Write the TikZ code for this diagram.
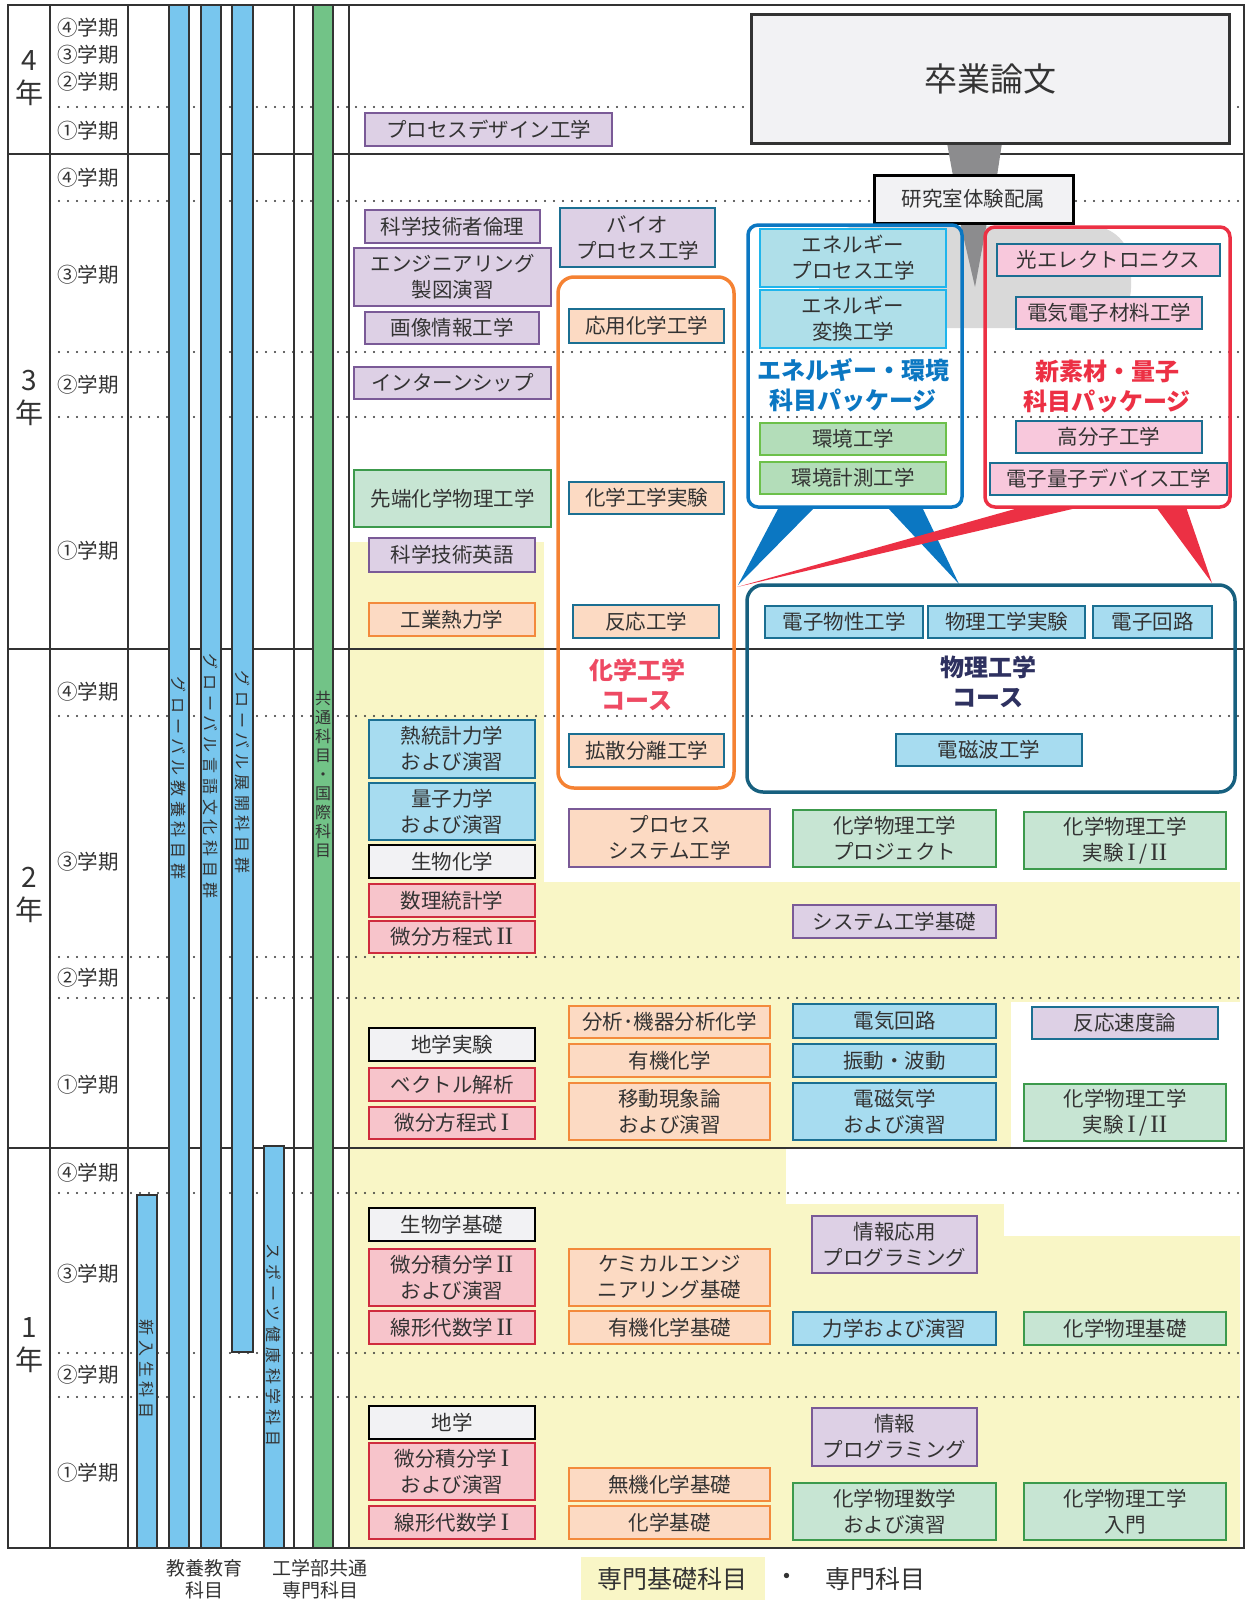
\documentclass[tikz,border=0pt]{standalone}
\usepackage{fontspec}
\usepackage{xcolor}
\setmainfont{Noto Sans CJK JP}
\newfontfamily\barfont[LetterSpace=30]{Noto Sans CJK JP}
\newfontfamily\romnum{Liberation Serif}
\newcommand{\rI}{\,{\romnum\fontsize{25}{26}\selectfont I}}
\newcommand{\rII}{\,{\romnum\fontsize{25}{26}\selectfont II}}

\definecolor{txtgray}{HTML}{333333}
\definecolor{gridgray}{HTML}{333333}
\definecolor{ybg}{HTML}{F9F6C6}
\definecolor{barblue}{HTML}{78C6EE}
\definecolor{bargreen}{HTML}{72C387}
\definecolor{purpfill}{HTML}{DDD0E5}
\definecolor{purpline}{HTML}{7A5A97}
\definecolor{peachfill}{HTML}{FCDAC3}
\definecolor{orangeline}{HTML}{F38A3C}
\definecolor{bluefill}{HTML}{A7DCF0}
\definecolor{tealline}{HTML}{1B6F92}
\definecolor{greenfill}{HTML}{C7E5D3}
\definecolor{greenline}{HTML}{3C9A4C}
\definecolor{pinkfill}{HTML}{F7C4CB}
\definecolor{pinkline}{HTML}{CF2B3E}
\definecolor{grayfill}{HTML}{F2F2F4}
\definecolor{enfill}{HTML}{AFDFE9}
\definecolor{enline}{HTML}{1FB5EC}
\definecolor{envfill}{HTML}{B3DDB9}
\definecolor{envline}{HTML}{6CC04A}
\definecolor{qfill}{HTML}{F8C8DC}
\definecolor{pkgblue}{HTML}{0B77C2}
\definecolor{pkgred}{HTML}{EC3044}
\definecolor{chemframe}{HTML}{F58233}
\definecolor{chemtitle}{HTML}{EE4A63}
\definecolor{physframe}{HTML}{17607F}
\definecolor{phystitle}{HTML}{2E3160}
\definecolor{funnelgray}{HTML}{8C8C8E}

\begin{document}
\begin{tikzpicture}[
        x=1pt, y=-1pt,
        wh/.style 2 args={minimum width=#1pt, minimum height=#2pt},
        subj/.style={draw, line width=1.6pt, inner sep=0pt, align=center, text=txtgray,
            font=\fontsize{20.5}{26}\selectfont},
        purp/.style={subj, fill=purpfill, draw=purpline},
        purpT/.style={subj, fill=purpfill, draw=tealline},
        peach/.style={subj, fill=peachfill, draw=orangeline},
        peachT/.style={subj, fill=peachfill, draw=tealline},
        peachP/.style={subj, fill=peachfill, draw=purpline},
        bluebox/.style={subj, fill=bluefill, draw=tealline},
        greenbox/.style={subj, fill=greenfill, draw=greenline},
        pinkbox/.style={subj, fill=pinkfill, draw=pinkline},
        graybox/.style={subj, fill=grayfill, draw=black},
        enbox/.style={subj, fill=enfill, draw=enline},
        envbox/.style={subj, fill=envfill, draw=envline},
        qbox/.style={subj, fill=qfill, draw=tealline},
        term/.style={text=txtgray, font=\fontsize{20.5}{24}\selectfont},
        yearlbl/.style={text=txtgray, align=center, font=\fontsize{28}{33}\selectfont},
        bartext/.style={text=txtgray, font=\barfont\fontsize{16}{18}\selectfont},
        pkgtitle/.style={align=center, font=\bfseries\fontsize{24}{30}\selectfont},
        gridline/.style={draw=gridgray, line width=1.8pt},
        dotline/.style={draw=gridgray, line width=2.2pt, line cap=round, dash pattern=on 0pt off 9pt},
        bar/.style={draw=gridgray, line width=1.5pt},
        frame/.style={line width=3.5pt, rounded corners=10pt}
    ]
    \useasboundingbox (0,0) rectangle (1247,1601);

    % yellow background
    \fill[ybg] (350,542) rectangle (544,882);
    \fill[ybg] (350,882) rectangle (1240,1002);
    \fill[ybg] (350,1002) rectangle (1011,1148);
    \fill[ybg] (350,1148) rectangle (786,1204);
    \fill[ybg] (350,1204) rectangle (1004,1236);
    \fill[ybg] (350,1236) rectangle (1240,1548);

    \foreach \yy in {107,201,352,417,716,957,998,1193,1353,1397}
        \draw[dotline] (50,\yy) -- (1244,\yy);

    \draw[gridline] (8,5) rectangle (1244,1548);
    \foreach \yy in {154,649,1148}
        \draw[gridline] (8,\yy) -- (1244,\yy);
    \foreach \xx in {50,128,294,349}
        \draw[gridline] (\xx,5) -- (\xx,1548);

    % years and terms
    \node[yearlbl] (y4) at (29,78) {4\\年};
    \node[yearlbl] (y3) at (29,398) {3\\年};
    \node[yearlbl] (y2) at (29,895) {2\\年};
    \node[yearlbl] (y1) at (29,1345) {1\\年};
    \node[term] (t44) at (88,28) {④学期};
    \node[term] (t43) at (88,55) {③学期};
    \node[term] (t42) at (88,82) {②学期};
    \node[term] (t41) at (88,131) {①学期};
    \node[term] (t34) at (88,178) {④学期};
    \node[term] (t33) at (88,275) {③学期};
    \node[term] (t32) at (88,385) {②学期};
    \node[term] (t31) at (88,551) {①学期};
    \node[term] (t24) at (88,692) {④学期};
    \node[term] (t23) at (88,862) {③学期};
    \node[term] (t22) at (88,978) {②学期};
    \node[term] (t21) at (88,1085) {①学期};
    \node[term] (t14) at (88,1173) {④学期};
    \node[term] (t13) at (88,1274) {③学期};
    \node[term] (t12) at (88,1375) {②学期};
    \node[term] (t11) at (88,1473) {①学期};

    % bars
    \filldraw[bar, fill=barblue] (169,5) rectangle (189,1548);
    \filldraw[bar, fill=barblue] (201,5) rectangle (221,1548);
    \filldraw[bar, fill=barblue] (232,5) rectangle (253,1352);
    \filldraw[bar, fill=barblue] (137,1195) rectangle (157,1548);
    \filldraw[bar, fill=barblue] (264,1146) rectangle (284,1548);
    \filldraw[bar, fill=bargreen] (313,5) rectangle (333,1548);
    \node[bartext, rotate=-90] (gedu) at (179,778) {グローバル教養科目群};
    \node[bartext, rotate=-90] (glang) at (211,776) {グローバル言語文化科目群};
    \node[bartext, rotate=-90] (gexp) at (242.5,772) {グローバル展開科目群};
    \node[bartext, rotate=-90] (fresh) at (147,1369) {新入生科目};
    \node[bartext, rotate=-90] (sports) at (274,1345) {スポーツ健康科学科目};
    \node[text=txtgray, align=center, font=\fontsize{16}{19}\selectfont] (common) at (323,774)
        {共\\通\\科\\目\\・\\国\\際\\科\\目};
    \node[text=txtgray, align=center, font=\fontsize{19}{22}\selectfont] (libarts) at (204,1579) {教養教育\\科目};
    \node[text=txtgray, align=center, font=\fontsize{19}{22}\selectfont] (engcom) at (320,1579) {工学部共通\\専門科目};

    % thesis and lab
    \fill[gray!30, rounded corners=40pt] (819,226) rectangle (1131,328);
    \fill[funnelgray] (947,143) -- (1002,143) -- (997,176) -- (953,176) -- cycle;
    \fill[funnelgray] (960,222) -- (987,222) -- (975,287) -- cycle;
    \node[draw=gridgray, line width=3pt, fill=grayfill, wh={478}{129}, text=txtgray,
        font=\fontsize{33}{36}\selectfont] (thesis) at (990,78.5) {卒業論文};
    \node[graybox, line width=3pt, wh={199}{48}] (lab) at (973.5,199) {研究室体験配属};

    % packages and courses
    \fill[pkgblue] (779,507) -- (815,507) -- (738,585) -- cycle;
    \fill[pkgblue] (887,507) -- (922,507) -- (959,584) -- cycle;
    \fill[pkgred] (1022,507) -- (1081,507) -- (737,587) -- cycle;
    \fill[pkgred] (1156,507) -- (1186,507) -- (1212,583) -- cycle;
    \draw[frame, pkgblue] (748,225) rectangle (962,507);
    \draw[frame, pkgred] (985,227) rectangle (1230,507);
    \draw[frame, chemframe, rounded corners=16pt] (558,277) rectangle (734,788);
    \draw[frame, physframe, rounded corners=16pt] (747,585) rectangle (1235,792);
    \node[pkgtitle, text=pkgblue] (entitle) at (853,385) {エネルギー・環境\\科目パッケージ};
    \node[pkgtitle, text=pkgred] (qtitle) at (1107,386) {新素材・量子\\科目パッケージ};
    \node[pkgtitle, text=chemtitle] (chemtitle) at (637,685) {化学工学\\コース};
    \node[pkgtitle, text=phystitle] (phystitle) at (988,682) {物理工学\\コース};

    \node[enbox, wh={186}{58}] (enproc) at (853,258) {エネルギー\\プロセス工学};
    \node[enbox, wh={186}{58}] (enconv) at (853,319) {エネルギー\\変換工学};
    \node[envbox, wh={186}{32}] (envi) at (853,439) {環境工学};
    \node[envbox, wh={186}{32}] (envmeas) at (853,478) {環境計測工学};
    \node[qbox, wh={223}{32}] (opto) at (1108.5,260) {光エレクトロニクス};
    \node[qbox, wh={186}{32}] (elemat) at (1109,313) {電気電子材料工学};
    \node[qbox, wh={186}{32}] (polymer) at (1109,437) {高分子工学};
    \node[qbox, wh={237}{32}] (qdevice) at (1108.5,479) {電子量子デバイス工学};
    \node[bluebox, wh={158}{32}] (esolid) at (844,622) {電子物性工学};
    \node[bluebox, wh={157}{32}] (physexp) at (1006.5,622) {物理工学実験};
    \node[bluebox, wh={119}{32}] (ecirc) at (1152.5,622) {電子回路};
    \node[bluebox, wh={186}{32}] (emwave) at (989,750) {電磁波工学};

    % year 4 and 3
    \node[purp, wh={247}{33}] (pdesign) at (488.5,129.5) {プロセスデザイン工学};
    \node[purp, wh={175}{33}] (ethics) at (452.5,226.5) {科学技術者倫理};
    \node[purp, wh={197}{58}] (drawing) at (452.5,277) {エンジニアリング\\製図演習};
    \node[purp, wh={174}{32}] (imaging) at (452,328) {画像情報工学};
    \node[purp, wh={197}{32}] (intern) at (452.5,383) {インターンシップ};
    \node[greenbox, wh={197}{57}] (advcp) at (452.5,498.5) {先端化学物理工学};
    \node[purp, wh={166}{34}] (sciengl) at (452,555) {科学技術英語};
    \node[peach, wh={166}{33}] (indthermo) at (452,619.5) {工業熱力学};
    \node[purpT, wh={155}{59}] (bioproc) at (637.5,237.5) {バイオ\\プロセス工学};
    \node[peachT, wh={155}{34}] (appchem) at (646.5,326) {応用化学工学};
    \node[peachT, wh={155}{32}] (chemexp) at (646.5,498) {化学工学実験};
    \node[peachT, wh={146}{33}] (reaction) at (646,621.5) {反応工学};
    \node[peachT, wh={155}{33}] (diffsep) at (646.5,750.5) {拡散分離工学};

    % year 2
    \node[bluebox, wh={166}{58}] (statmech) at (452,749) {熱統計力学\\および演習};
    \node[bluebox, wh={166}{57}] (quantum) at (452,811.5) {量子力学\\および演習};
    \node[graybox, wh={166}{33}] (biochem) at (452,861.5) {生物化学};
    \node[pinkbox, wh={166}{33}] (mathstat) at (452,900.5) {数理統計学};
    \node[pinkbox, wh={166}{32}] (diffeqB) at (452,937) {微分方程式\rII};
    \node[peachP, wh={201}{58}] (procsys) at (669.5,838) {プロセス\\システム工学};
    \node[greenbox, wh={203}{57}] (cpproj) at (894.5,838.5) {化学物理工学\\プロジェクト};
    \node[greenbox, wh={202}{57}] (cpexpA) at (1125,840.5) {化学物理工学\\実験\rI\,/\rII};
    \node[purp, wh={203}{33}] (sysbase) at (894.5,921.5) {システム工学基礎};
    \node[peach, wh={201}{32}] (analchem) at (669.5,1022) {分析･機器分析化学};
    \node[peach, wh={201}{33}] (orgchem) at (669.5,1060.5) {有機化学};
    \node[peach, wh={201}{57}] (transport) at (669.5,1111.5) {移動現象論\\および演習};
    \node[bluebox, wh={203}{34}] (eleccirc) at (894.5,1021) {電気回路};
    \node[bluebox, wh={203}{33}] (vibwave) at (894.5,1060.5) {振動・波動};
    \node[bluebox, wh={203}{57}] (emag) at (894.5,1111.5) {電磁気学\\および演習};
    \node[purpT, wh={186}{32}] (kinetics) at (1125,1023) {反応速度論};
    \node[greenbox, wh={202}{57}] (cpexpB) at (1125,1112.5) {化学物理工学\\実験\rI\,/\rII};
    \node[graybox, wh={166}{33}] (geoexp) at (452,1044.5) {地学実験};
    \node[pinkbox, wh={166}{33}] (vecanal) at (452,1084.5) {ベクトル解析};
    \node[pinkbox, wh={166}{32}] (diffeqA) at (452,1123) {微分方程式\rI};

    % year 1
    \node[graybox, wh={166}{33}] (biobase) at (452,1224.5) {生物学基礎};
    \node[pinkbox, wh={166}{57}] (calcB) at (452,1277.5) {微分積分学\rII\\および演習};
    \node[pinkbox, wh={166}{33}] (linalgB) at (452,1327.5) {線形代数学\rII};
    \node[peach, wh={201}{57}] (chemeng) at (669.5,1277.5) {ケミカルエンジ\\ニアリング基礎};
    \node[peach, wh={201}{33}] (orgbase) at (669.5,1327.5) {有機化学基礎};
    \node[purp, wh={165}{57}] (infoapp) at (894.5,1244.5) {情報応用\\プログラミング};
    \node[bluebox, wh={203}{33}] (mech) at (894.5,1328.5) {力学および演習};
    \node[greenbox, wh={202}{33}] (cpbase) at (1125,1328.5) {化学物理基礎};
    \node[graybox, wh={166}{33}] (geo) at (452,1422.5) {地学};
    \node[pinkbox, wh={166}{57}] (calcA) at (452,1471.5) {微分積分学\rI\\および演習};
    \node[pinkbox, wh={166}{33}] (linalgA) at (452,1522.5) {線形代数学\rI};
    \node[peach, wh={201}{33}] (inorg) at (669.5,1484.5) {無機化学基礎};
    \node[peach, wh={201}{33}] (chembase) at (669.5,1522.5) {化学基礎};
    \node[purp, wh={165}{58}] (infoprog) at (894.5,1437) {情報\\プログラミング};
    \node[greenbox, wh={203}{57}] (cpmath) at (894.5,1511.5) {化学物理数学\\および演習};
    \node[greenbox, wh={202}{57}] (cpintro) at (1125,1511.5) {化学物理工学\\入門};

    % legend
    \fill[ybg] (581,1557) rectangle (765,1600);
    \node[text=txtgray, font=\fontsize{25}{28}\selectfont] (legbase) at (672,1579) {専門基礎科目};
    \node[text=txtgray, font=\fontsize{25}{28}\selectfont] (legdot) at (787,1579) {・};
    \node[text=txtgray, font=\fontsize{25}{28}\selectfont] (legspec) at (875,1579) {専門科目};
\end{tikzpicture}
\end{document}
